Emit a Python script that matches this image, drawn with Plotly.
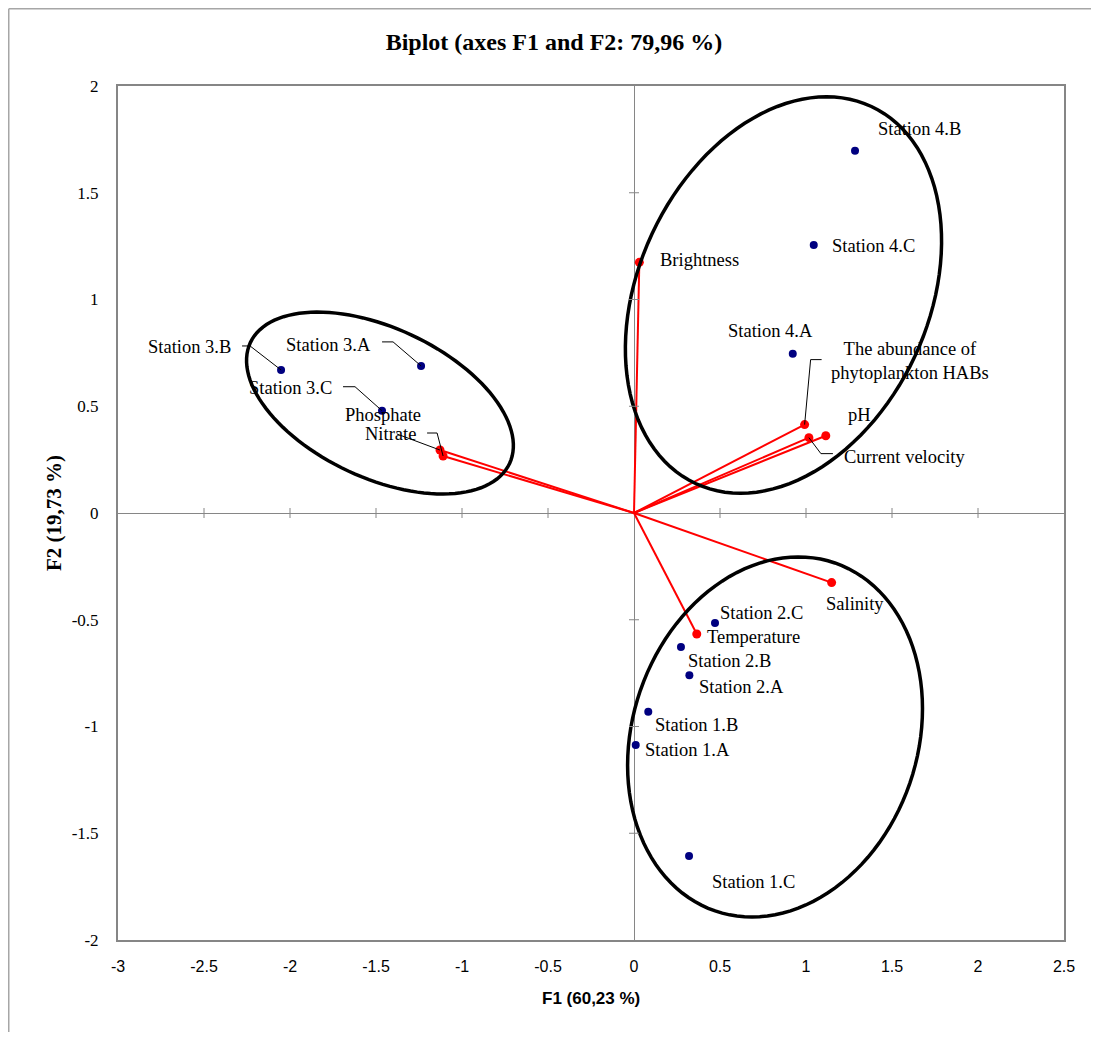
import numpy as np
import plotly.graph_objects as go

# ---------------- data ----------------
stations = ["Station 1.A", "Station 1.B", "Station 1.C", "Station 2.A", "Station 2.B", "Station 2.C",
            "Station 3.A", "Station 3.B", "Station 3.C", "Station 4.A", "Station 4.B", "Station 4.C"]
station_f1 = [0.010, 0.083, 0.320, 0.322, 0.273, 0.471, -1.238, -2.052, -1.465, 0.923, 1.285, 1.045]
station_f2 = [-1.087, -0.931, -1.607, -0.760, -0.628, -0.515, 0.689, 0.670, 0.479, 0.746, 1.697, 1.255]

variables = ["Brightness", "The abundance of<br>phytoplankton HABs", "pH", "Current velocity",
             "Salinity", "Temperature", "Phosphate", "Nitrate"]
var_f1 = [0.031, 0.992, 1.115, 1.017, 1.149, 0.365, -1.128, -1.110]
var_f2 = [1.174, 0.414, 0.362, 0.353, -0.326, -0.567, 0.295, 0.267]

x_ticks = [-3, -2.5, -2, -1.5, -1, -0.5, 0, 0.5, 1, 1.5, 2, 2.5]
y_ticks = [-2, -1.5, -1, -0.5, 0, 0.5, 1, 1.5, 2]

title_text = "Biplot (axes F1 and F2: 79,96 %)"
x_title = "F1 (60,23 %)"
y_title = "F2 (19,73 %)"

# ---------------- layout geometry ----------------
W, H = 1091, 1024
ML, MR, MT, MB = 110, 35, 78, 92
XR = [-3, 2.5]
YR = [-2, 2]
PW = W - ML - MR
PH = H - MT - MB
PX = PW / (XR[1] - XR[0])   # pixels per x unit
PY = PH / (YR[1] - YR[0])   # pixels per y unit

# label placement: (dx, dy screen px, xanchor)
station_label_pos = {
    "Station 1.A": (7, 5, "left"), "Station 1.B": (5, 13, "left"), "Station 1.C": (21, 26, "left"),
    "Station 2.A": (8, 12, "left"), "Station 2.B": (5, 14, "left"), "Station 2.C": (3, -10, "left"),
    "Station 3.A": (-48, -21, "right"), "Station 3.B": (-48, -23, "right"), "Station 3.C": (-48, -23, "right"),
    "Station 4.A": (-22, -23, "center"), "Station 4.B": (21, -22, "left"), "Station 4.C": (16, 1, "left"),
}
var_label_pos = {
    "Brightness": (19, -2, "left"), "The abundance of<br>phytoplankton HABs": (105, -64, "center"),
    "pH": (20, -21, "left"), "Current velocity": (33, 19, "left"), "Salinity": (23, 21, "center"),
    "Temperature": (8, 3, "left"), "Phosphate": (-17, -35, "right"), "Nitrate": (-25, -22, "right"),
}
# leader lines (screen px offsets from the point)
station_leaders = {
    "Station 3.A": [(-39, -24), (-28, -24), (0, 0)],
    "Station 3.B": [(-39, -24), (-31, -24), (0, 0)],
    "Station 3.C": [(-39, -24), (-27, -24), (0, 0)],
}
var_leaders = {
    "The abundance of<br>phytoplankton HABs": [(17, -65), (6, -65), (0, 0)],
    "Current velocity": [(24, 16), (12, 16), (0, 0)],
    "Phosphate": [(-43, -16), (0, 0)],
    "Nitrate": [(-16, -23), (-6, -23), (0, 0)],
}
# ellipses: centre (data), semi-axes (px), screen angle of major axis (deg, counter-clockwise)
ellipses = [
    ((-1.477, 0.515), 143, 75, -25),
    ((0.869, 1.021), 208, 145, 65),
    ((0.820, -1.049), 184, 142.5, 71),
]

fig = go.Figure()

# loading vectors
lx, ly = [], []
for a, b in zip(var_f1, var_f2):
    lx += [0, a, None]
    ly += [0, b, None]
fig.add_trace(go.Scatter(x=lx, y=ly, mode="lines", line=dict(color="#FF0000", width=2),
                         hoverinfo="skip", showlegend=False))
fig.add_trace(go.Scatter(x=var_f1, y=var_f2, mode="markers", text=variables,
                         marker=dict(color="#FF0000", size=9), showlegend=False))
fig.add_trace(go.Scatter(x=station_f1, y=station_f2, mode="markers", text=stations,
                         marker=dict(color="#000080", size=8), showlegend=False))

# leader lines
def leader_xy(px0, py0, offs):
    xs = [px0 + dx / PX for dx, dy in offs]
    ys = [py0 - dy / PY for dx, dy in offs]
    return xs, ys

ldx, ldy = [], []
for name, offs in station_leaders.items():
    i = stations.index(name)
    xs, ys = leader_xy(station_f1[i], station_f2[i], offs)
    ldx += xs + [None]
    ldy += ys + [None]
for name, offs in var_leaders.items():
    i = variables.index(name)
    xs, ys = leader_xy(var_f1[i], var_f2[i], offs)
    ldx += xs + [None]
    ldy += ys + [None]
fig.add_trace(go.Scatter(x=ldx, y=ldy, mode="lines", line=dict(color="black", width=1),
                         hoverinfo="skip", showlegend=False))

shapes = []
# ellipses
for (cx, cy), a, b, ang in ellipses:
    t = np.linspace(0, 2 * np.pi, 121)
    th = np.radians(ang)
    ex = a * np.cos(t) * np.cos(th) - b * np.sin(t) * np.sin(th)
    ey = a * np.cos(t) * np.sin(th) + b * np.sin(t) * np.cos(th)
    xs = cx + ex / PX
    ys = cy + ey / PY
    path = "M " + " L ".join(f"{x:.5f},{y:.5f}" for x, y in zip(xs, ys)) + " Z"
    shapes.append(dict(type="path", path=path, xref="x", yref="y",
                       line=dict(color="black", width=3.5)))

# cross tick marks on the zero lines
for v in y_ticks:
    if v in (0, YR[0], YR[1]):
        continue
    shapes.append(dict(type="line", xref="x", yref="y", xsizemode="pixel", xanchor=0,
                       x0=-5, x1=5, y0=v, y1=v, line=dict(color="#868686", width=1)))
for v in x_ticks:
    if v in (0, XR[0], XR[1]):
        continue
    shapes.append(dict(type="line", xref="x", yref="y", ysizemode="pixel", yanchor=0,
                       y0=-5, y1=5, x0=v, x1=v, line=dict(color="#868686", width=1)))

# outer chart border: top and left edges only
bx = (0.75 - ML) / PW
by = 1 + (MT - 0.75) / PH
shapes.append(dict(type="line", xref="paper", yref="paper", x0=bx, x1=1.3, y0=by, y1=by,
                   line=dict(color="#A6A6A6", width=1.5), layer="below"))
shapes.append(dict(type="line", xref="paper", yref="paper", x0=bx, x1=bx, y0=-0.4, y1=by,
                   line=dict(color="#A6A6A6", width=1.5), layer="below"))

annotations = []
lab_font = dict(family="Liberation Serif, Times New Roman, serif", size=18.5, color="black")
for name, x, y in zip(stations, station_f1, station_f2):
    dx, dy, xa = station_label_pos[name]
    annotations.append(dict(x=x, y=y, xref="x", yref="y", text=name, showarrow=False,
                            xshift=dx, yshift=-dy, xanchor=xa, yanchor="middle", font=lab_font))
for name, x, y in zip(variables, var_f1, var_f2):
    dx, dy, xa = var_label_pos[name]
    annotations.append(dict(x=x, y=y, xref="x", yref="y", text=name, showarrow=False,
                            xshift=dx, yshift=-dy, xanchor=xa, yanchor="middle", font=lab_font,
                            align="center"))

annotations.append(dict(text="<b>" + x_title + "</b>", xref="paper", yref="paper", x=0.5,
                        y=-58 / PH, showarrow=False,
                        xanchor="center", yanchor="middle",
                        font=dict(family="Liberation Sans, Arial, sans-serif", size=17, color="black")))
annotations.append(dict(text="<b>" + y_title + "</b>", xref="paper", yref="paper",
                        x=-64 / PW, y=0.5, showarrow=False, textangle=-90,
                        xanchor="center", yanchor="middle",
                        font=dict(family="Liberation Serif, Times New Roman, serif", size=21, color="black")))

fig.update_layout(
    width=W, height=H,
    margin=dict(l=ML, r=MR, t=MT, b=MB),
    paper_bgcolor="white", plot_bgcolor="white",
    title=dict(text="<b>" + title_text + "</b>", xref="container", yref="container",
               x=546 / W, y=1 - 34 / H, xanchor="center", yanchor="middle",
               font=dict(family="Liberation Serif, Times New Roman, serif", size=24, color="black")),
    xaxis=dict(range=XR, tickvals=x_ticks, ticktext=[f"{v:g}" for v in x_ticks],
               showgrid=False, zeroline=True, zerolinecolor="#868686", zerolinewidth=1,
               showline=True, mirror=True, linecolor="#868686", linewidth=2,
               ticks="", ticklabelstandoff=11,
               tickfont=dict(family="Liberation Sans, Arial, sans-serif", size=16, color="black")),
    yaxis=dict(range=YR, tickvals=y_ticks, ticktext=[f"{v:g}" for v in y_ticks],
               showgrid=False, zeroline=True, zerolinecolor="#868686", zerolinewidth=1,
               showline=True, mirror=True, linecolor="#868686", linewidth=2,
               ticks="", ticklabelstandoff=14,
               tickfont=dict(family="Liberation Serif, Times New Roman, serif", size=17, color="black")),
    shapes=shapes,
    annotations=annotations,
    showlegend=False,
)

fig.write_html("out.html")
